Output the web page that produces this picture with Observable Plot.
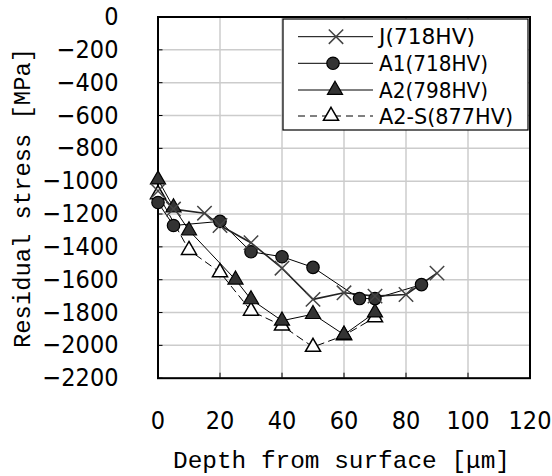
<!DOCTYPE html>
<html>
<head>
<meta charset="utf-8">
<script src="https://cdn.jsdelivr.net/npm/d3@7"></script>
<script src="https://cdn.jsdelivr.net/npm/@observablehq/plot@0.6"></script>
<style>
  html, body { margin: 0; padding: 0; background: #fff; }
  #chart { width: 552px; height: 476px; }
</style>
</head>
<body>
<div id="chart"></div>
<script>
// ---- data ----
const seriesNames = ["J(718HV)", "A1(718HV)", "A2(798HV)", "A2-S(877HV)"];

const depthJ   = [0, 5, 15, 20, 30, 40, 50, 60, 70, 80, 90];
const stressJ  = [-1060, -1170, -1195, -1270, -1375, -1530, -1720, -1680, -1700, -1690, -1560];

const depthA1  = [0, 5, 20, 30, 40, 50, 65, 70, 85];
const stressA1 = [-1130, -1270, -1245, -1430, -1460, -1525, -1715, -1715, -1630];

const depthA2  = [0, 5, 10, 25, 30, 40, 50, 60, 70];
const stressA2 = [-990, -1160, -1300, -1600, -1720, -1850, -1810, -1935, -1800];

const depthA2S  = [0, 10, 20, 30, 40, 50, 60, 70];
const stressA2S = [-1080, -1420, -1555, -1790, -1880, -2010, -1940, -1830];

const xTicks = [0, 20, 40, 60, 80, 100, 120];
const yTicks = [0, -200, -400, -600, -800, -1000, -1200, -1400, -1600, -1800, -2000, -2200];

const xTitle = "Depth from surface [\u03bcm]";
const yTitle = "Residual stress [MPa]";

// ---- build tables ----
const toRows = (xs, ys) => xs.map((x, i) => ({x, y: ys[i]}));
const J = toRows(depthJ, stressJ);
const A1 = toRows(depthA1, stressA1);
const A2 = toRows(depthA2, stressA2);
const A2S = toRows(depthA2S, stressA2S);

const W = 552, H = 476;
const tickFont = "'Liberation Sans Narrow', 'DejaVu Sans Condensed', sans-serif";
const titleFont = "'Liberation Mono', 'DejaVu Sans Mono', monospace";

const plot = Plot.plot({
  width: W,
  height: H,
  marginLeft: 157.5,
  marginRight: 22.5,
  marginTop: 16.5,
  marginBottom: 98.3,
  style: {fontFamily: tickFont, fontSize: "25px", color: "#000", background: "#fff"},
  x: {domain: [0, 120]},
  y: {domain: [-2200, 0]},
  marks: [
    Plot.gridX(xTicks, {stroke: "#cccccc", strokeOpacity: 1, strokeWidth: 1.5}),
    Plot.gridY(yTicks, {stroke: "#cccccc", strokeOpacity: 1, strokeWidth: 1.5}),
    Plot.frame({stroke: "#000", strokeWidth: 2}),
    Plot.axisX({ticks: xTicks, tickSize: 0, tickPadding: 33, label: null, tickFormat: d => String(d), fontSize: 25}),
    Plot.axisX({ticks: xTicks, tickSize: -5, text: null, label: null, stroke: "#000"}),
    Plot.axisY({ticks: yTicks, tickSize: 0, tickPadding: 39.5, label: null, tickFormat: d => d < 0 ? "\u2212" + Math.abs(d) : String(d), fontSize: 25}),
    Plot.axisY({ticks: yTicks, tickSize: -5, text: null, label: null, stroke: "#000"}),

    // A2-S dashed with open triangles
    Plot.line(A2S, {x: "x", y: "y", stroke: "#000", strokeWidth: 1, strokeDasharray: "7,5"}),
    // A2
    Plot.line(A2, {x: "x", y: "y", stroke: "#000", strokeWidth: 1}),
    // A1
    Plot.line(A1, {x: "x", y: "y", stroke: "#000", strokeWidth: 1}),
    // J
    Plot.line(J, {x: "x", y: "y", stroke: "#222", strokeWidth: 1.6}),

    Plot.dot(A2S, {x: "x", y: "y", symbol: "triangle", r: 5.6, fill: "#fff", stroke: "#000", strokeWidth: 1.5}),
    Plot.dot(A2, {x: "x", y: "y", symbol: "triangle", r: 5.6, fill: "#333", stroke: "#000", strokeWidth: 1.2}),
    Plot.dot(A1, {x: "x", y: "y", symbol: "circle", r: 6.2, fill: "#333", stroke: "#000", strokeWidth: 1.2}),
    Plot.dot(J, {x: "x", y: "y", symbol: "times", r: 6.6, stroke: "#444", strokeWidth: 1.5})
  ]
});

document.getElementById("chart").appendChild(plot);

// ---- titles and legend (drawn into the Plot SVG) ----
const svg = d3.select(plot);

svg.append("text")
  .attr("x", 341.5).attr("y", 468)
  .attr("text-anchor", "middle")
  .attr("font-family", titleFont).attr("font-size", 24)
  .attr("textLength", 337).attr("lengthAdjust", "spacingAndGlyphs")
  .attr("fill", "#000")
  .text(xTitle);

svg.append("text")
  .attr("transform", "translate(30,198) rotate(-90)")
  .attr("text-anchor", "middle")
  .attr("font-family", titleFont).attr("font-size", 24)
  .attr("textLength", 300).attr("lengthAdjust", "spacingAndGlyphs")
  .attr("fill", "#000")
  .text(yTitle);

const lg = svg.append("g").attr("text-anchor", "start");
lg.append("rect")
  .attr("x", 283).attr("y", 19).attr("width", 245).attr("height", 111)
  .attr("fill", "#fff").attr("stroke", "#000").attr("stroke-width", 1.2);

const legendRows = [
  {name: seriesNames[0], y: 36.7, dash: null, sym: d3.symbolTimes, r: 6.6, fill: "none", stroke: "#444", sw: 1.5, len: 96, mx: 336},
  {name: seriesNames[1], y: 63.3, dash: null, sym: d3.symbolCircle, r: 6.2, fill: "#333", stroke: "#000", sw: 1.2, len: 109, mx: 333},
  {name: seriesNames[2], y: 90, dash: null, sym: d3.symbolTriangle, r: 5.6, fill: "#333", stroke: "#000", sw: 1.2, len: 109, mx: 335},
  {name: seriesNames[3], y: 116, dash: "7,5", sym: d3.symbolTriangle, r: 5.6, fill: "#fff", stroke: "#000", sw: 1.5, len: 134, mx: 331}
];
legendRows.forEach(row => {
  lg.append("line")
    .attr("x1", 298).attr("x2", 373).attr("y1", row.y).attr("y2", row.y)
    .attr("stroke", "#000").attr("stroke-width", 1)
    .attr("stroke-dasharray", row.dash);
  lg.append("path")
    .attr("d", d3.symbol(row.sym, row.r * row.r * Math.PI)())
    .attr("transform", `translate(${row.mx},${row.y})`)
    .attr("fill", row.fill).attr("stroke", row.stroke).attr("stroke-width", row.sw);
  lg.append("text")
    .attr("x", 379).attr("y", row.y)
    .attr("dy", "0.36em")
    .attr("text-anchor", "start")
    .attr("font-family", tickFont).attr("font-size", 21)
    .attr("textLength", row.len).attr("lengthAdjust", "spacingAndGlyphs")
    .attr("fill", "#000")
    .text(row.name);
});
</script>
</body>
</html>
